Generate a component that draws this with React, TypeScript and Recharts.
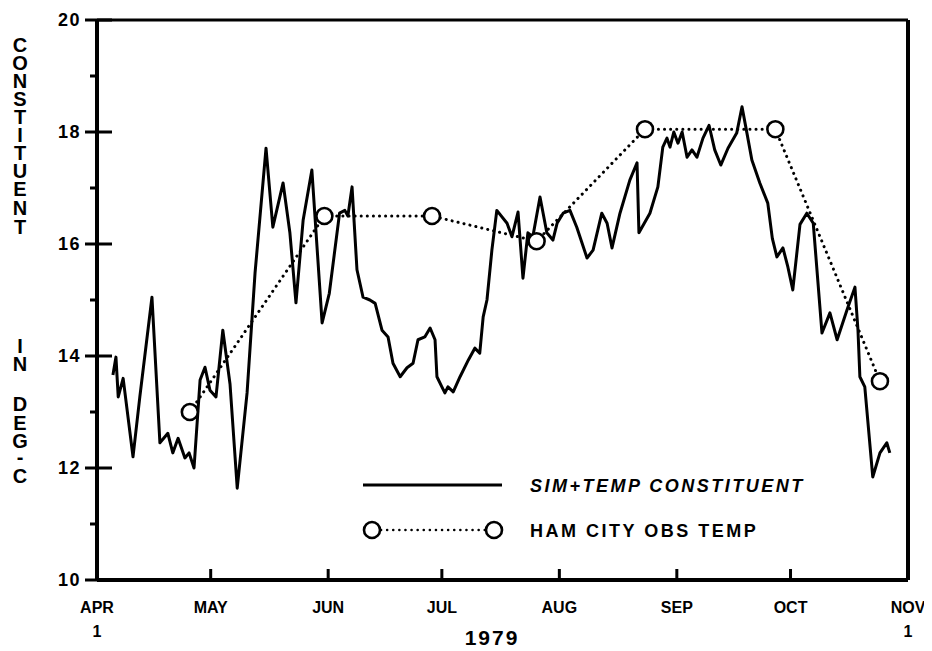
import React from "react";
import { ComposedChart, Line, XAxis, YAxis, ReferenceLine, Customized } from "recharts";

// Day numbers counted from April 1, 1979
const monthTicks = [0, 30, 61, 91, 122, 153, 183, 214];
const monthLabels = ["APR", "MAY", "JUN", "JUL", "AUG", "SEP", "OCT", "NOV"];
const yTicks = [10, 11, 12, 13, 14, 15, 16, 17, 18, 19, 20];

const simDays = [
  4.2, 5.0, 5.6, 6.9, 9.5, 11.3, 14.5, 16.6, 18.7, 20.0, 21.4, 23.2, 24.3, 25.6, 27.2, 28.5, 29.8, 31.4,
  33.2, 35.1, 37.0, 39.6, 41.7, 44.6, 46.4, 49.1, 50.9, 52.5, 54.4, 56.7, 59.4, 61.3, 64.0, 65.4, 66.2,
  67.3, 68.6, 70.2, 72.0, 73.4, 75.2, 76.8, 78.1, 80.0, 81.8, 83.4, 84.7, 86.5, 87.9, 89.2, 89.7, 91.0,
  91.8, 92.6, 94.0, 95.8, 98.0, 99.7, 101.0, 101.9, 102.9, 104.2, 105.5, 108.2, 109.5, 111.1, 112.4,
  113.7, 115.0, 116.9, 118.7, 120.3, 121.4, 123.0, 124.8, 126.6, 129.3, 130.9, 133.2, 134.6, 135.9,
  138.0, 140.6, 142.5, 143.0, 145.9, 148.0, 149.3, 150.4, 151.2, 152.2, 153.3, 154.4, 155.7, 157.0,
  158.3, 159.9, 161.5, 163.0, 164.6, 166.5, 168.8, 170.2, 171.5, 172.8, 174.9, 177.0, 178.2, 179.4,
  181.0, 182.3, 183.6, 185.5, 187.3, 189.0, 191.3, 193.4, 195.3, 197.9, 200.0, 200.8, 201.3, 202.6,
  204.7, 206.6, 208.4, 209.2,
];
const simTemps = [
  13.66, 13.98, 13.27, 13.6, 12.2, 13.27, 15.05, 12.45, 12.62, 12.27, 12.53, 12.18, 12.27, 12.0, 13.57,
  13.8, 13.39, 13.27, 14.46, 13.5, 11.64, 13.34, 15.48, 17.71, 16.3, 17.09, 16.2, 14.95, 16.43, 17.32,
  14.59, 15.12, 16.55, 16.6, 16.5, 17.02, 15.54, 15.05, 15.0, 14.94, 14.46, 14.34, 13.87, 13.63, 13.79,
  13.87, 14.29, 14.34, 14.5, 14.29, 13.63, 13.45, 13.34, 13.45, 13.36, 13.63, 13.93, 14.14, 14.05, 14.7,
  15.0, 15.89, 16.6, 16.37, 16.13, 16.57, 15.39, 16.2, 16.13, 16.84, 16.2, 16.07, 16.37, 16.55, 16.6,
  16.3, 15.75, 15.89, 16.55, 16.37, 15.93, 16.55, 17.14, 17.45, 16.2, 16.55, 17.02, 17.73, 17.89, 17.73,
  18.0, 17.8, 18.0, 17.55, 17.68, 17.55, 17.89, 18.12, 17.68, 17.41, 17.71, 17.98, 18.45, 17.98, 17.5,
  17.09, 16.73, 16.1, 15.77, 15.93, 15.59, 15.18, 16.35, 16.55, 16.37, 14.41, 14.77, 14.29, 14.82, 15.23,
  14.46, 13.63, 13.45, 11.84, 12.27, 12.45, 12.27,
];

const obsDays = [24.5, 60, 88.4, 116, 144.6, 179, 206.6];
const obsTemps = [13.0, 16.5, 16.5, 16.05, 18.05, 18.05, 13.55];

const simData = simDays.map((d, i) => ({ day: d, sim: simTemps[i] }));
const obsData = obsDays.map((d, i) => ({ day: d, obs: obsTemps[i] }));

const FONT = "'Liberation Sans', Arial, sans-serif";

const XTick = (props: any) => {
  const { x, y, payload } = props;
  const idx = monthTicks.indexOf(payload.value);
  const label = idx >= 0 ? monthLabels[idx] : "";
  const edge = payload.value === 0 || payload.value === 214;
  return (
    <g>
      <rect x={x - 1.5} y={y - 11} width={3} height={11} fill="#000" />
      <text x={x} y={y + 33} textAnchor="middle" fontFamily={FONT} fontWeight="bold" fontSize={16} fill="#000">
        {label}
      </text>
      {edge && (
        <text x={x} y={y + 57} textAnchor="middle" fontFamily={FONT} fontWeight="bold" fontSize={16} fill="#000">
          1
        </text>
      )}
    </g>
  );
};

const YTick = (props: any) => {
  const { x, y, payload } = props;
  const v = payload.value;
  if (v % 2 !== 0) {
    return <rect x={x - 7} y={y - 1.5} width={7} height={3} fill="#000" />;
  }
  return (
    <g>
      <rect x={x - 12} y={y - 1.5} width={27} height={3} fill="#000" />
      <text x={x - 16} y={y + 6} textAnchor="end" fontFamily={FONT} fontWeight="bold" fontSize={18} letterSpacing={1.5} fill="#000">
        {String(v)}
      </text>
    </g>
  );
};

const ObsDot = (props: any) => {
  const { cx, cy, index } = props;
  if (cx == null || cy == null) return <g key={index} />;
  return <circle key={index} cx={cx} cy={cy} r={8} fill="#fff" stroke="#000" strokeWidth={2.6} />;
};

const yLetters: [string, number][] = [
  ["C", 45], ["O", 63], ["N", 81], ["S", 99], ["T", 117], ["I", 135], ["T", 153], ["U", 171], ["E", 189],
  ["N", 208], ["T", 227], ["I", 346], ["N", 364], ["D", 404], ["E", 423], ["G", 441], ["-", 457], ["C", 476],
];

const Decorations = () => (
  <g fontFamily={FONT} fontWeight="bold" fill="#000">
    {yLetters.map(([ch, cy], i) => (
      <text key={i} x={12} y={cy - 8 + 7} textAnchor="middle" fontSize={20}>
        {ch}
      </text>
    ))}
    <text x={484} y={637} textAnchor="middle" fontSize={21} letterSpacing={2}>
      1979
    </text>
    <line x1={355} x2={494} y1={477} y2={477} stroke="#000" strokeWidth={3} />
    <text x={522} y={484} fontSize={18} letterSpacing={2.5} fontStyle="italic">
      SIM+TEMP CONSTITUENT
    </text>
    <line x1={373} x2={477} y1={522} y2={522} stroke="#000" strokeWidth={2.5} strokeDasharray="0.1 6" strokeLinecap="round" />
    <circle cx={364} cy={522} r={8} fill="#fff" stroke="#000" strokeWidth={2.6} />
    <circle cx={486} cy={522} r={8} fill="#fff" stroke="#000" strokeWidth={2.6} />
    <text x={522} y={529} fontSize={18} letterSpacing={2.5}>
      HAM CITY OBS TEMP
    </text>
  </g>
);

export default function App() {
  return (
    <div style={{ width: 916, height: 640, background: "#fff" }}>
      <ComposedChart width={916} height={640} margin={{ top: 12, right: 16, bottom: 0, left: 0 }}>
        <XAxis
          type="number"
          dataKey="day"
          domain={[0, 214]}
          ticks={monthTicks}
          interval={0}
          height={68}
          tickSize={0}
          tickMargin={0}
          tickLine={false}
          axisLine={{ stroke: "#000", strokeWidth: 4 }}
          tick={<XTick />}
        />
        <YAxis
          type="number"
          domain={[10, 20]}
          ticks={yTicks}
          interval={0}
          width={89}
          tickSize={0}
          tickMargin={0}
          tickLine={false}
          axisLine={{ stroke: "#000", strokeWidth: 4 }}
          tick={<YTick />}
        />
        <ReferenceLine y={20} stroke="#000" strokeWidth={3} ifOverflow="visible" />
        <ReferenceLine x={214} stroke="#000" strokeWidth={4} ifOverflow="visible" />
        <Line
          data={simData}
          dataKey="sim"
          type="linear"
          stroke="#000"
          strokeWidth={3}
          strokeLinejoin="round"
          dot={false}
          activeDot={false}
          isAnimationActive={false}
        />
        <Line
          data={obsData}
          dataKey="obs"
          type="linear"
          stroke="#000"
          strokeWidth={3}
          strokeDasharray="0.1 6"
          strokeLinecap="round"
          dot={<ObsDot />}
          activeDot={false}
          isAnimationActive={false}
        />
        <Customized component={<Decorations />} />
      </ComposedChart>
    </div>
  );
}
